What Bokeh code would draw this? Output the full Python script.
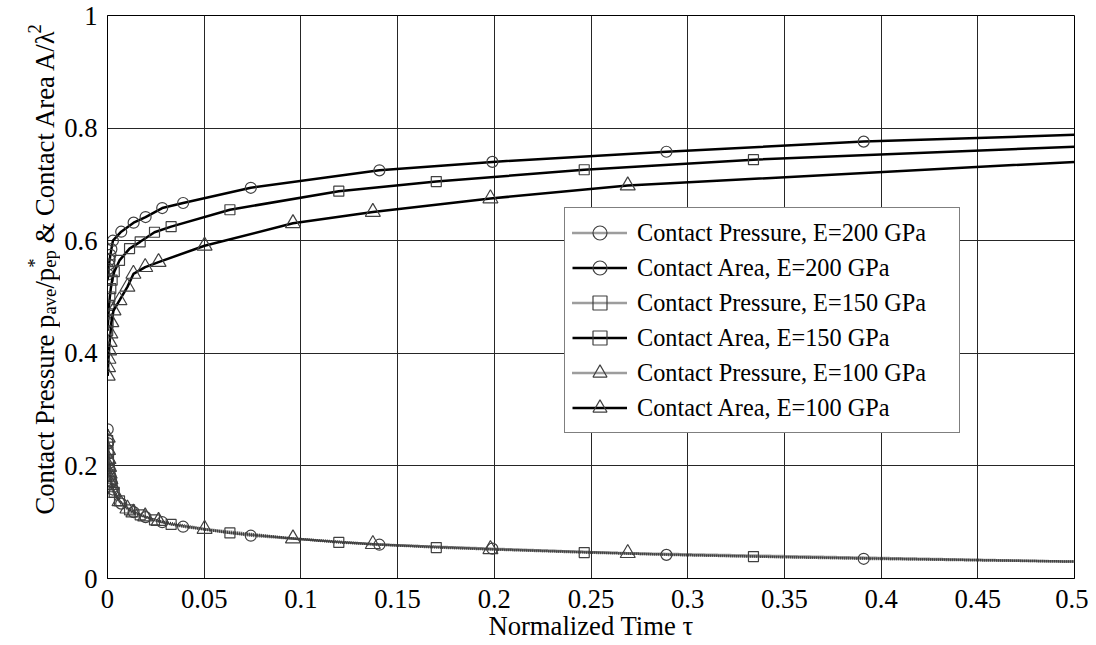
from math import pi
from bokeh.plotting import figure
from bokeh.layouts import row
from bokeh.models import Range1d, FixedTicker, Label, Legend, LegendItem
from bokeh.embed import file_html
from bokeh.resources import INLINE

# ---------------- data ----------------
x_ticks = [0, 0.05, 0.1, 0.15, 0.2, 0.25, 0.3, 0.35, 0.4, 0.45, 0.5]
x_tick_labels = ["0", "0.05", "0.1", "0.15", "0.2", "0.25", "0.3", "0.35", "0.4", "0.45", "0.5"]
y_ticks = [0, 0.2, 0.4, 0.6, 0.8, 1.0]
y_tick_labels = ["0", "0.2", "0.4", "0.6", "0.8", "1"]

tau_end = 0.5

# E = 200 GPa (circles)
tau_200 = [0.0001, 0.0003, 0.0005, 0.0008, 0.0011, 0.0015, 0.0020, 0.0028, 0.0071,
           0.0135, 0.0197, 0.0283, 0.0391, 0.0741, 0.1406, 0.1990, 0.2890, 0.3910]
area_200 = [0.530, 0.540, 0.550, 0.558, 0.566, 0.575, 0.585, 0.600, 0.616,
            0.632, 0.642, 0.658, 0.667, 0.694, 0.725, 0.740, 0.758, 0.776]
pres_200 = [0.265, 0.240, 0.222, 0.205, 0.193, 0.182, 0.172, 0.158, 0.133,
            0.118, 0.109, 0.100, 0.092, 0.076, 0.060, 0.053, 0.042, 0.035]
area_200_end = 0.788
pres_200_end = 0.030

# E = 150 GPa (squares)
tau_150 = [0.0001, 0.0003, 0.0005, 0.0008, 0.0012, 0.0017, 0.0024, 0.0035, 0.0062,
           0.0114, 0.0169, 0.0243, 0.0329, 0.0633, 0.1196, 0.1700, 0.2465, 0.3340]
area_150 = [0.440, 0.455, 0.470, 0.485, 0.500, 0.515, 0.530, 0.545, 0.565,
            0.586, 0.598, 0.615, 0.625, 0.655, 0.688, 0.705, 0.726, 0.744]
pres_150 = [0.245, 0.225, 0.210, 0.196, 0.184, 0.173, 0.163, 0.153, 0.138,
            0.122, 0.113, 0.104, 0.096, 0.081, 0.064, 0.055, 0.046, 0.039]
area_150_end = 0.767
pres_150_end = 0.030

# E = 100 GPa (triangles)
tau_100 = [0.0001, 0.0003, 0.0005, 0.0008, 0.0011, 0.0015, 0.0020, 0.0031, 0.0062,
           0.0103, 0.0134, 0.0195, 0.0264, 0.0502, 0.0959, 0.1372, 0.1980, 0.2690]
area_100 = [0.360, 0.375, 0.390, 0.405, 0.420, 0.435, 0.455, 0.476, 0.494,
            0.518, 0.541, 0.553, 0.562, 0.591, 0.631, 0.651, 0.675, 0.698]
pres_100 = [0.250, 0.228, 0.212, 0.198, 0.186, 0.176, 0.166, 0.152, 0.137,
            0.124, 0.117, 0.110, 0.102, 0.088, 0.071, 0.061, 0.052, 0.045]
area_100_end = 0.740
pres_100_end = 0.030

legend_labels = ["Contact Pressure, E=200 GPa", "Contact Area, E=200 GPa",
                 "Contact Pressure, E=150 GPa", "Contact Area, E=150 GPa",
                 "Contact Pressure, E=100 GPa", "Contact Area, E=100 GPa"]

x_label = "Normalized Time \u03c4"
y_label_pieces = ["Contact Pressure p", "ave", "/p", "*", "ep",
                  "& Contact Area A/\u03bb", "2"]

# ---------------- layout constants ----------------
FONT = "Liberation Serif"
H = 645
LW = 60            # width of the y-label strip
MW = 1028          # width of the main figure
FRAME_TOP = 15
FRAME_BOTTOM = 578

# ---------------- main figure ----------------
p = figure(width=MW, height=H, output_backend="svg", toolbar_location=None,
           x_range=Range1d(0, 0.5), y_range=Range1d(0, 1), title=None,
           min_border_left=107 - LW, min_border_right=14,
           min_border_top=FRAME_TOP, min_border_bottom=H - FRAME_BOTTOM)
p.background_fill_color = "white"
p.border_fill_color = "white"
p.outline_line_color = "black"
p.outline_line_width = 1

xt = FixedTicker(ticks=x_ticks)
yt = FixedTicker(ticks=y_ticks)
p.xaxis.ticker = xt
p.yaxis.ticker = yt
p.xgrid.ticker = xt
p.ygrid.ticker = yt
p.xaxis.major_label_overrides = {t: l for t, l in zip(x_ticks, x_tick_labels)}
p.yaxis.major_label_overrides = {t: l for t, l in zip(y_ticks, y_tick_labels)}
for ax in (p.xaxis[0], p.yaxis[0]):
    ax.major_tick_line_color = None
    ax.minor_tick_line_color = None
    ax.axis_line_color = "black"
    ax.major_label_text_font = FONT
    ax.major_label_text_font_size = "26.67px"
    ax.major_label_text_color = "black"
p.xaxis.major_label_standoff = 5
p.yaxis.major_label_standoff = 4
p.xaxis.axis_label = x_label
p.xaxis.axis_label_text_font = FONT
p.xaxis.axis_label_text_font_size = "26.67px"
p.xaxis.axis_label_text_font_style = "normal"
p.xaxis.axis_label_text_color = "black"
p.xaxis.axis_label_standoff = 0
for g in (p.xgrid[0], p.ygrid[0]):
    g.grid_line_color = "#262626"
    g.grid_line_width = 1
    g.grid_line_alpha = 1

PCOL = "#3a3a3a"
MCOL = "#404040"

series = [
    (tau_200, pres_200, pres_200_end, area_200, area_200_end, "circle", 11),
    (tau_150, pres_150, pres_150_end, area_150, area_150_end, "square", 10),
    (tau_100, pres_100, pres_100_end, area_100, area_100_end, "triangle", 15),
]

items = []
k = 0
for tau, pres, pend, area, aend, mk, sz in series:
    lx = tau + [tau_end]
    pl = p.line(lx, pres + [pend], line_color=PCOL, line_width=2.5, line_dash="1 1")
    pm = p.scatter(tau, pres, marker=mk, size=sz, fill_color=None,
                   line_color=MCOL, line_width=1.2)
    al = p.line(lx, area + [aend], line_color="black", line_width=2.5)
    am = p.scatter(tau, area, marker=mk, size=sz, fill_color=None,
                   line_color=MCOL, line_width=1.2)
    items.append(LegendItem(label=legend_labels[k], renderers=[pl, pm]))
    items.append(LegendItem(label=legend_labels[k + 1], renderers=[al, am]))
    k += 2

legend = Legend(items=items, location=(457, 145), orientation="vertical",
                label_text_font=FONT, label_text_font_size="24.3px",
                label_text_color="black", glyph_width=55, glyph_height=35,
                label_height=35, label_width=315, label_standoff=10,
                spacing=0, padding=7, margin=0,
                border_line_color="black", border_line_width=1,
                background_fill_color="white", background_fill_alpha=1)
p.add_layout(legend)

# ---------------- y-label strip (rotated text with sub/superscripts) ----------------
# its frame is aligned with the main frame; 1 data unit = 1 px upward from the frame bottom
FH = FRAME_BOTTOM - FRAME_TOP
q = figure(width=LW, height=H, output_backend="svg", toolbar_location=None,
           x_range=Range1d(0, LW), y_range=Range1d(0, FH), title=None,
           x_axis_type=None, y_axis_type=None,
           min_border_left=0, min_border_right=0,
           min_border_top=FRAME_TOP, min_border_bottom=H - FRAME_BOTTOM)
q.outline_line_color = None
q.grid.visible = False
q.background_fill_color = "white"
q.border_fill_color = "white"

S = 26.67
s = 0.7 * S
start = FRAME_BOTTOM - 514     # label start (bottom end of the rotated text)
xb = 44                        # baseline
dists = [0.0, 200.0, 225.9, 246.7, 246.7, 271.0, 481.0]
sizes = [S, s, S, s, s, S, s]
shifts = [0, 5, 0, -10, 5, 0, -10]
for txt, d, fs, off in zip(y_label_pieces, dists, sizes, shifts):
    q.add_layout(Label(x=xb + off, y=start + d, text=txt,
                       angle=pi / 2, text_align="left", text_baseline="alphabetic",
                       text_font=FONT, text_font_size="%.2fpx" % fs,
                       text_color="black"))

layout = row(q, p, spacing=0)
open("out.html", "w").write(file_html(layout, INLINE))
